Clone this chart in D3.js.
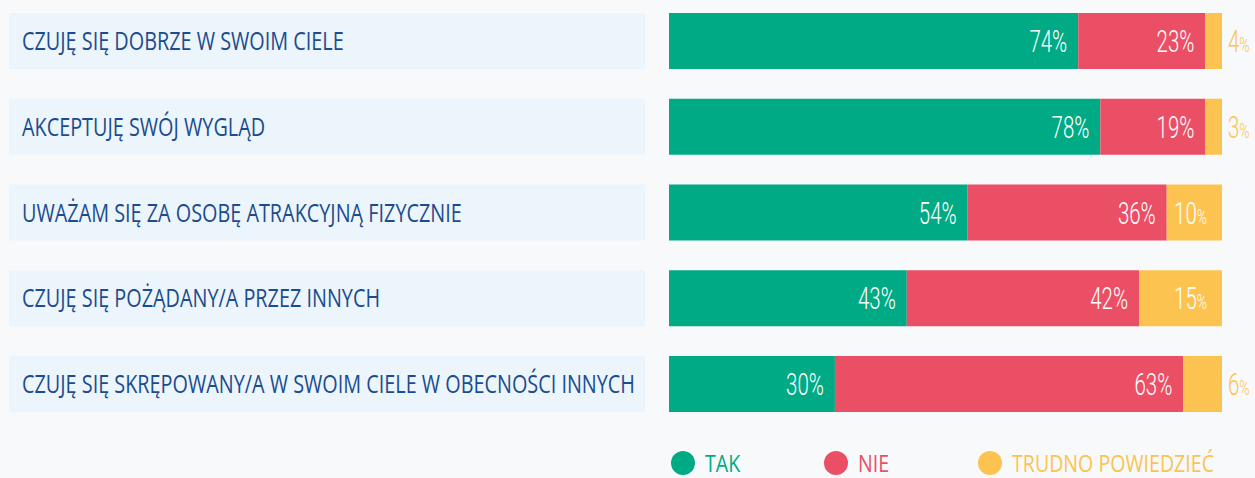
<!DOCTYPE html>
<html>
<head>
<meta charset="utf-8">
<script src="https://cdn.jsdelivr.net/npm/d3@7"></script>
<style>
  html, body { margin: 0; padding: 0; background: #f7f9fb; }
  svg { display: block; }
</style>
</head>
<body>
<svg id="chart" width="1255" height="478"></svg>
<script>
// Survey statements and answer shares (%)
const statements = [
  "CZUJĘ SIĘ DOBRZE W SWOIM CIELE",
  "AKCEPTUJĘ SWÓJ WYGLĄD",
  "UWAŻAM SIĘ ZA OSOBĘ ATRAKCYJNĄ FIZYCZNIE",
  "CZUJĘ SIĘ POŻĄDANY/A PRZEZ INNYCH",
  "CZUJĘ SIĘ SKRĘPOWANY/A W SWOIM CIELE W OBECNOŚCI INNYCH"
];
const tak = [74, 78, 54, 43, 30];
const nie = [23, 19, 36, 42, 63];
const trudno = [4, 3, 10, 15, 6];
const answers = ["TAK", "NIE", "TRUDNO POWIEDZIEĆ"];
const colors = ["#00aa85", "#ea4f65", "#fcc350"];

const svg = d3.select("#chart");

const x = d3.scaleLinear().domain([0, 100]).range([669, 1222]);
const y = d3.scaleBand().domain(d3.range(statements.length))
  .range([13, 412]).paddingInner(0.347).paddingOuter(0);

const rows = statements.map((s, i) => ({
  label: s, i,
  segs: [
    { k: 0, v: tak[i], x0: 0, x1: tak[i] },
    { k: 1, v: nie[i], x0: tak[i], x1: tak[i] + nie[i] },
    // the "hard to say" segment fills the rest of the 100% track
    { k: 2, v: trudno[i], x0: tak[i] + nie[i], x1: 100 }
  ]
}));

// statement boxes on the left
const g = svg.append("g");
g.selectAll("rect.box").data(rows).join("rect")
  .attr("class", "box")
  .attr("x", 9).attr("width", 636)
  .attr("y", d => y(d.i)).attr("height", y.bandwidth())
  .attr("fill", "#ecf5fc");

g.selectAll("text.lab").data(rows).join("text")
  .attr("class", "lab")
  .attr("transform", d => `translate(22,${y(d.i) + y.bandwidth() / 2 + 9}) scale(0.8,1)`)
  .attr("font-family", "Open Sans, sans-serif")
  .attr("font-size", 24.8)
  .attr("fill", "#1b4c8e")
  .text(d => d.label);

// stacked bars
const rowG = svg.selectAll("g.row").data(rows).join("g").attr("class", "row");
rowG.selectAll("rect").data(d => d.segs.map(s => ({ ...s, i: d.i }))).join("rect")
  .attr("x", d => x(d.x0))
  .attr("width", d => x(d.x1) - x(d.x0))
  .attr("y", d => y(d.i))
  .attr("height", y.bandwidth())
  .attr("fill", d => colors[d.k]);

// value labels
const fontV = "Roboto, sans-serif";
rowG.each(function(d) {
  const gg = d3.select(this);
  const cy = y(d.i) + y.bandwidth() / 2 + 11;
  d.segs.forEach(s => {
    const w = x(s.x1) - x(s.x0);
    if (s.k < 2) {
      gg.append("text")
        .attr("transform", `translate(${x(s.x1) - 11},${cy}) scale(0.66,1)`)
        .attr("text-anchor", "end")
        .attr("font-family", fontV).attr("font-weight", 300)
        .attr("font-size", 31).attr("fill", "#fff")
        .text(s.v + "%");
    } else {
      const inside = w > 40;
      const t = gg.append("text")
        .attr("transform", inside
          ? `translate(${x(s.x1) - 15},${cy}) scale(0.66,1)`
          : `translate(${x(s.x1) + 6},${cy}) scale(0.66,1)`)
        .attr("text-anchor", inside ? "end" : "start")
        .attr("font-family", fontV).attr("font-weight", 300)
        .attr("fill", inside ? "#fff" : colors[2]);
      t.append("tspan").attr("font-size", 31).text(s.v);
      t.append("tspan").attr("font-size", 21).text("%");
    }
  });
});

// legend
const legX = [683, 836, 990];
const lg = svg.selectAll("g.leg").data(answers).join("g").attr("class", "leg")
  .attr("transform", (d, i) => `translate(${legX[i]},463)`);
lg.append("circle").attr("r", 12).attr("fill", (d, i) => colors[i]);
lg.append("text")
  .attr("transform", "translate(22,9) scale(0.8,1)")
  .attr("font-family", "Open Sans, sans-serif")
  .attr("font-size", 24.5)
  .attr("fill", (d, i) => colors[i])
  .text(d => d);
</script>
</body>
</html>
